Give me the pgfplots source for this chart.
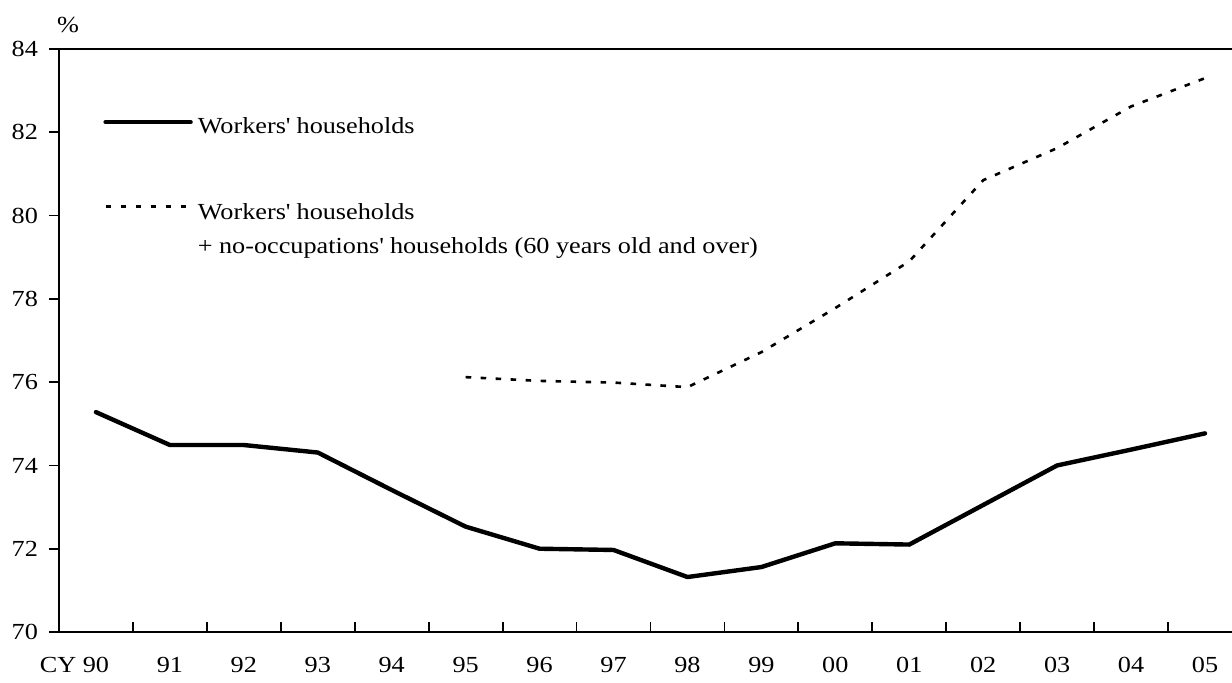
\documentclass[border=0pt]{standalone}
\usepackage{fontspec}
\setmainfont{Liberation Serif}[FakeStretch=1.14]
\usepackage{pgfplots}
\usepackage{pgfplotstable}
\pgfplotsset{compat=1.18}

% index 0 = CY90 ... 15 = CY05
\pgfplotstableread{
x y
0 75.28
1 74.49
2 74.49
3 74.31
4 73.41
5 72.53
6 72.00
7 71.97
8 71.32
9 71.56
10 72.13
11 72.10
12 73.05
13 74.00
14 74.38
15 74.77
}\workers

\pgfplotstableread{
x y
5 76.12
6 76.03
7 75.99
8 75.88
9 76.72
10 77.78
11 78.90
12 80.85
13 81.62
14 82.62
15 83.30
}\withretired

\newcommand{\q}{\textquotesingle}

\begin{document}
\fontsize{11.5}{14}\selectfont
\begin{tikzpicture}
\useasboundingbox (-29.5pt,-25pt) rectangle (586.5pt,316pt);
\begin{axis}[
  at={(0,0)}, anchor=south west,
  scale only axis,
  width=586.5pt, height=291.5pt,
  xmin=-0.5, xmax=15.365,
  ymin=70, ymax=84,
  axis x line*=bottom, axis y line*=left,
  axis line style={-, line width=1pt},
  ytick={70,72,...,84},
  ytick align=outside,
  xtick={0.5,1.5,...,14.5},
  xticklabels={},
  xtick align=inside,
  major tick length=5pt,
  tick style={line width=0.9pt, black},
  extra x ticks={0,1,...,15},
  extra x tick labels={\llap{CY }90,91,92,93,94,95,96,97,98,99,00,01,02,03,04,05},
  extra x tick style={major tick length=0pt},
  /pgf/number format/assume math mode=true,
  yticklabel style={xshift=-1.5pt},
  xticklabel style={yshift=-8.5pt},
  clip=false,
  legend cell align=left,
  legend style={at={(rel axis cs:0.0375,0.8834)}, anchor=north west,
    draw=none, fill=none, inner sep=0pt, row sep=31.7pt, column sep=2.5pt,
    nodes={inner sep=0pt}},
  legend image code/.code={\draw[#1] (0pt,2.5pt) -- (42.5pt,2.5pt);},
]
\addplot[black, line width=2.2pt, line join=round, line cap=round] table[x=x,y=y]{\workers};
\addlegendentry{Workers\q{} households}
\addplot[black, line width=1.3pt, dash pattern=on 2.8pt off 4.7pt] table[x=x,y=y]{\withretired};
\addlegendentry{\begin{tabular}[t]{@{}l@{}}Workers\q{} households\\[3pt]+ no-occupations\q{} households (60 years old and over)\end{tabular}}
\draw[line width=1pt] (rel axis cs:0,1) -- (rel axis cs:1,1);
\node at ([xshift=4.5pt,yshift=12pt]rel axis cs:0,1) {\%};
\end{axis}
\end{tikzpicture}
\end{document}
